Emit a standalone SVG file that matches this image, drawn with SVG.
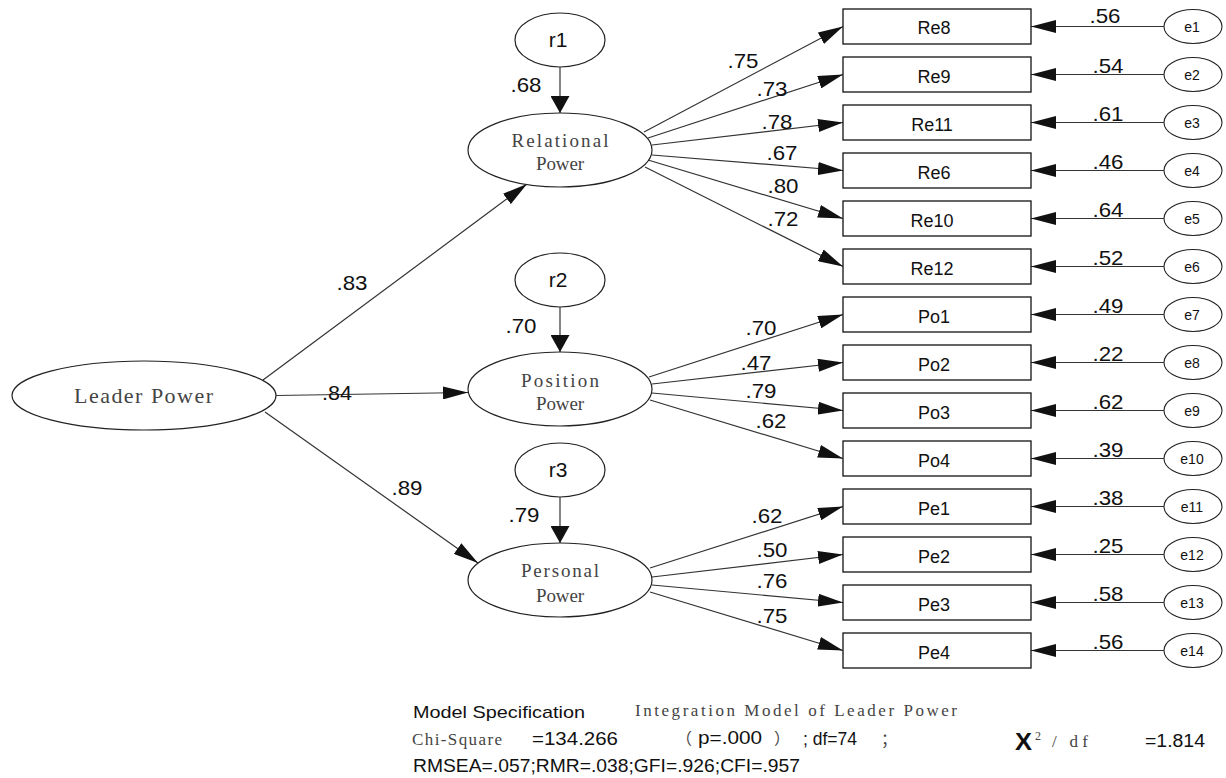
<svg xmlns="http://www.w3.org/2000/svg" width="1226" height="778" viewBox="0 0 1226 778">
<style>
.bg{fill:#ffffff}
.lat{fill:#ffffff;stroke:#222;stroke-width:1.2}
.box{fill:#ffffff;stroke:#111;stroke-width:1.3}
.err{fill:#ffffff;stroke:#222;stroke-width:1.1}
.ln{stroke:#333;stroke-width:1.2;fill:none}
.ser{font-family:"Liberation Serif","Noto Serif",serif;fill:#444}
.sans{font-family:"Liberation Sans",Arial,sans-serif;fill:#111}
.num{font-family:"Liberation Sans",Arial,sans-serif;fill:#111;font-size:21px;text-anchor:middle}
.obs{font-family:"Liberation Sans",Arial,sans-serif;fill:#111;font-size:18px;text-anchor:middle}
.el{font-family:"Liberation Sans",Arial,sans-serif;fill:#111;font-size:14px;text-anchor:middle}
.rl{font-family:"Liberation Sans",Arial,sans-serif;fill:#111;font-size:21px;text-anchor:middle}
.cjk{font-family:"Noto Sans CJK SC",sans-serif;fill:#444;font-size:16px}
</style>
<defs>
<marker id="ah" markerUnits="userSpaceOnUse" markerWidth="25" markerHeight="13" refX="25" refY="6.5" orient="auto" viewBox="0 0 25 13">
<path d="M0,0 L25,6.5 L0,13 z" fill="#111"/>
</marker>
<marker id="ahr" markerUnits="userSpaceOnUse" markerWidth="17" markerHeight="19" refX="17" refY="9.5" orient="auto" viewBox="0 0 17 19">
<path d="M0,0 L17,9.5 L0,19 z" fill="#111"/>
</marker>
</defs>
<rect class="bg" x="0" y="0" width="1226" height="778"/>

<g id="connectors">
<line class="ln" x1="263" y1="380" x2="527" y2="184" marker-end="url(#ah)"/>
<line class="ln" x1="276" y1="395.5" x2="468" y2="392.5" marker-end="url(#ah)"/>
<line class="ln" x1="265" y1="412" x2="478" y2="563" marker-end="url(#ah)"/>
<line class="ln" x1="560" y1="67" x2="560" y2="113" marker-end="url(#ahr)"/>
<line class="ln" x1="560" y1="307" x2="560" y2="352" marker-end="url(#ahr)"/>
<line class="ln" x1="560" y1="497" x2="560" y2="543" marker-end="url(#ahr)"/>
<line class="ln" x1="644" y1="132" x2="843" y2="26.5" marker-end="url(#ah)"/>
<line class="ln" x1="648" y1="138" x2="843" y2="74.5" marker-end="url(#ah)"/>
<line class="ln" x1="652" y1="145" x2="843" y2="122.5" marker-end="url(#ah)"/>
<line class="ln" x1="652" y1="155" x2="843" y2="170.5" marker-end="url(#ah)"/>
<line class="ln" x1="648" y1="160" x2="843" y2="218.5" marker-end="url(#ah)"/>
<line class="ln" x1="645" y1="167" x2="843" y2="266.5" marker-end="url(#ah)"/>
<line class="ln" x1="649" y1="377" x2="843" y2="314.5" marker-end="url(#ah)"/>
<line class="ln" x1="652" y1="384" x2="843" y2="362.5" marker-end="url(#ah)"/>
<line class="ln" x1="652" y1="393" x2="843" y2="410.5" marker-end="url(#ah)"/>
<line class="ln" x1="650" y1="400" x2="843" y2="458.5" marker-end="url(#ah)"/>
<line class="ln" x1="650" y1="568" x2="843" y2="506.5" marker-end="url(#ah)"/>
<line class="ln" x1="652" y1="577" x2="843" y2="554.5" marker-end="url(#ah)"/>
<line class="ln" x1="652" y1="585" x2="843" y2="602.5" marker-end="url(#ah)"/>
<line class="ln" x1="650" y1="592" x2="843" y2="650.5" marker-end="url(#ah)"/>
<line class="ln" x1="1164" y1="26.5" x2="1031" y2="26.5" marker-end="url(#ah)"/>
<line class="ln" x1="1164" y1="74.5" x2="1031" y2="74.5" marker-end="url(#ah)"/>
<line class="ln" x1="1164" y1="122.5" x2="1031" y2="122.5" marker-end="url(#ah)"/>
<line class="ln" x1="1164" y1="170.5" x2="1031" y2="170.5" marker-end="url(#ah)"/>
<line class="ln" x1="1164" y1="218.5" x2="1031" y2="218.5" marker-end="url(#ah)"/>
<line class="ln" x1="1164" y1="266.5" x2="1031" y2="266.5" marker-end="url(#ah)"/>
<line class="ln" x1="1164" y1="314.5" x2="1031" y2="314.5" marker-end="url(#ah)"/>
<line class="ln" x1="1164" y1="362.5" x2="1031" y2="362.5" marker-end="url(#ah)"/>
<line class="ln" x1="1164" y1="410.5" x2="1031" y2="410.5" marker-end="url(#ah)"/>
<line class="ln" x1="1164" y1="458.5" x2="1031" y2="458.5" marker-end="url(#ah)"/>
<line class="ln" x1="1164" y1="506.5" x2="1031" y2="506.5" marker-end="url(#ah)"/>
<line class="ln" x1="1164" y1="554.5" x2="1031" y2="554.5" marker-end="url(#ah)"/>
<line class="ln" x1="1164" y1="602.5" x2="1031" y2="602.5" marker-end="url(#ah)"/>
<line class="ln" x1="1164" y1="650.5" x2="1031" y2="650.5" marker-end="url(#ah)"/>
</g>

<g id="edge-labels">
<text class="num" x="352" y="290" textLength="31" lengthAdjust="spacingAndGlyphs">.83</text>
<text class="num" x="337" y="400" textLength="30" lengthAdjust="spacingAndGlyphs">.84</text>
<text class="num" x="407" y="495" textLength="31" lengthAdjust="spacingAndGlyphs">.89</text>
<text class="num" x="526" y="92" textLength="31" lengthAdjust="spacingAndGlyphs">.68</text>
<text class="num" x="521" y="333" textLength="31" lengthAdjust="spacingAndGlyphs">.70</text>
<text class="num" x="524" y="522" textLength="31" lengthAdjust="spacingAndGlyphs">.79</text>
<text class="num" x="743" y="68" textLength="31" lengthAdjust="spacingAndGlyphs">.75</text>
<text class="num" x="772" y="96" textLength="31" lengthAdjust="spacingAndGlyphs">.73</text>
<text class="num" x="777" y="129" textLength="31" lengthAdjust="spacingAndGlyphs">.78</text>
<text class="num" x="782" y="160" textLength="31" lengthAdjust="spacingAndGlyphs">.67</text>
<text class="num" x="783" y="193" textLength="31" lengthAdjust="spacingAndGlyphs">.80</text>
<text class="num" x="783" y="226" textLength="31" lengthAdjust="spacingAndGlyphs">.72</text>
<text class="num" x="761" y="335" textLength="31" lengthAdjust="spacingAndGlyphs">.70</text>
<text class="num" x="756" y="370" textLength="31" lengthAdjust="spacingAndGlyphs">.47</text>
<text class="num" x="761" y="398" textLength="31" lengthAdjust="spacingAndGlyphs">.79</text>
<text class="num" x="771" y="428" textLength="31" lengthAdjust="spacingAndGlyphs">.62</text>
<text class="num" x="767" y="523" textLength="31" lengthAdjust="spacingAndGlyphs">.62</text>
<text class="num" x="772" y="557" textLength="31" lengthAdjust="spacingAndGlyphs">.50</text>
<text class="num" x="772" y="588" textLength="31" lengthAdjust="spacingAndGlyphs">.76</text>
<text class="num" x="772" y="623" textLength="31" lengthAdjust="spacingAndGlyphs">.75</text>
<text class="num" x="1105" y="23" textLength="31" lengthAdjust="spacingAndGlyphs">.56</text>
<text class="num" x="1108" y="72.5" textLength="31" lengthAdjust="spacingAndGlyphs">.54</text>
<text class="num" x="1108" y="120.5" textLength="31" lengthAdjust="spacingAndGlyphs">.61</text>
<text class="num" x="1108" y="168.5" textLength="31" lengthAdjust="spacingAndGlyphs">.46</text>
<text class="num" x="1108" y="216.5" textLength="31" lengthAdjust="spacingAndGlyphs">.64</text>
<text class="num" x="1108" y="264.5" textLength="31" lengthAdjust="spacingAndGlyphs">.52</text>
<text class="num" x="1108" y="312.5" textLength="31" lengthAdjust="spacingAndGlyphs">.49</text>
<text class="num" x="1108" y="360.5" textLength="31" lengthAdjust="spacingAndGlyphs">.22</text>
<text class="num" x="1108" y="408.5" textLength="31" lengthAdjust="spacingAndGlyphs">.62</text>
<text class="num" x="1108" y="456.5" textLength="31" lengthAdjust="spacingAndGlyphs">.39</text>
<text class="num" x="1108" y="504.5" textLength="31" lengthAdjust="spacingAndGlyphs">.38</text>
<text class="num" x="1108" y="552.5" textLength="31" lengthAdjust="spacingAndGlyphs">.25</text>
<text class="num" x="1108" y="600.5" textLength="31" lengthAdjust="spacingAndGlyphs">.58</text>
<text class="num" x="1108" y="648.5" textLength="31" lengthAdjust="spacingAndGlyphs">.56</text>
</g>

<g id="leader-power">
<ellipse class="lat" cx="144" cy="395.5" rx="132" ry="34.5"/>
<text class="ser" x="74" y="403" font-size="22" textLength="139" lengthAdjust="spacing">Leader Power</text>
</g>
<g id="relational-power">
<ellipse class="lat" cx="560" cy="150" rx="92" ry="37"/>
<text class="ser" x="560" y="147" font-size="19" text-anchor="middle" textLength="97" lengthAdjust="spacing">Relational</text>
<text class="ser" x="560" y="170" font-size="19" text-anchor="middle" textLength="48" lengthAdjust="spacing">Power</text>
</g>
<g id="position-power">
<ellipse class="lat" cx="560" cy="389" rx="92" ry="37"/>
<text class="ser" x="560" y="387" font-size="19" text-anchor="middle" textLength="78" lengthAdjust="spacing">Position</text>
<text class="ser" x="560" y="410" font-size="19" text-anchor="middle" textLength="48" lengthAdjust="spacing">Power</text>
</g>
<g id="personal-power">
<ellipse class="lat" cx="560" cy="580" rx="92" ry="37"/>
<text class="ser" x="560" y="577" font-size="19" text-anchor="middle" textLength="78" lengthAdjust="spacing">Personal</text>
<text class="ser" x="560" y="602" font-size="19" text-anchor="middle" textLength="48" lengthAdjust="spacing">Power</text>
</g>
<g id="r1"><ellipse class="lat" cx="560" cy="40" rx="45" ry="27"/><text class="rl" x="558" y="47">r1</text></g>
<g id="r2"><ellipse class="lat" cx="560" cy="280" rx="45" ry="27"/><text class="rl" x="558" y="287">r2</text></g>
<g id="r3"><ellipse class="lat" cx="560" cy="470" rx="45" ry="27"/><text class="rl" x="558" y="477">r3</text></g>

<g id="Re8"><rect class="box" x="843" y="9" width="188" height="35"/><text class="obs" x="934" y="34">Re8</text></g>
<g id="Re9"><rect class="box" x="843" y="57" width="188" height="35"/><text class="obs" x="934" y="83">Re9</text></g>
<g id="Re11"><rect class="box" x="843" y="105" width="188" height="35"/><text class="obs" x="932" y="131">Re11</text></g>
<g id="Re6"><rect class="box" x="843" y="153" width="188" height="35"/><text class="obs" x="934" y="179">Re6</text></g>
<g id="Re10"><rect class="box" x="843" y="201" width="188" height="35"/><text class="obs" x="932" y="227">Re10</text></g>
<g id="Re12"><rect class="box" x="843" y="249" width="188" height="35"/><text class="obs" x="932" y="275">Re12</text></g>
<g id="Po1"><rect class="box" x="843" y="297" width="188" height="35"/><text class="obs" x="934" y="323">Po1</text></g>
<g id="Po2"><rect class="box" x="843" y="345" width="188" height="35"/><text class="obs" x="934" y="371">Po2</text></g>
<g id="Po3"><rect class="box" x="843" y="393" width="188" height="35"/><text class="obs" x="934" y="419">Po3</text></g>
<g id="Po4"><rect class="box" x="843" y="441" width="188" height="35"/><text class="obs" x="934" y="467">Po4</text></g>
<g id="Pe1"><rect class="box" x="843" y="489" width="188" height="35"/><text class="obs" x="934" y="515">Pe1</text></g>
<g id="Pe2"><rect class="box" x="843" y="537" width="188" height="35"/><text class="obs" x="934" y="563">Pe2</text></g>
<g id="Pe3"><rect class="box" x="843" y="585" width="188" height="35"/><text class="obs" x="934" y="611">Pe3</text></g>
<g id="Pe4"><rect class="box" x="843" y="633" width="188" height="35"/><text class="obs" x="934" y="659">Pe4</text></g>

<g id="e1"><ellipse class="err" cx="1193" cy="26.5" rx="29" ry="17"/><text class="el" x="1192" y="31.5">e1</text></g>
<g id="e2"><ellipse class="err" cx="1193" cy="74.5" rx="29" ry="17"/><text class="el" x="1192" y="79.5">e2</text></g>
<g id="e3"><ellipse class="err" cx="1193" cy="122.5" rx="29" ry="17"/><text class="el" x="1192" y="127.5">e3</text></g>
<g id="e4"><ellipse class="err" cx="1193" cy="170.5" rx="29" ry="17"/><text class="el" x="1192" y="175.5">e4</text></g>
<g id="e5"><ellipse class="err" cx="1193" cy="218.5" rx="29" ry="17"/><text class="el" x="1192" y="223.5">e5</text></g>
<g id="e6"><ellipse class="err" cx="1193" cy="266.5" rx="29" ry="17"/><text class="el" x="1192" y="271.5">e6</text></g>
<g id="e7"><ellipse class="err" cx="1193" cy="314.5" rx="29" ry="17"/><text class="el" x="1192" y="319.5">e7</text></g>
<g id="e8"><ellipse class="err" cx="1193" cy="362.5" rx="29" ry="17"/><text class="el" x="1192" y="367.5">e8</text></g>
<g id="e9"><ellipse class="err" cx="1193" cy="410.5" rx="29" ry="17"/><text class="el" x="1192" y="415.5">e9</text></g>
<g id="e10"><ellipse class="err" cx="1193" cy="458.5" rx="29" ry="17"/><text class="el" x="1192" y="463.5">e10</text></g>
<g id="e11"><ellipse class="err" cx="1193" cy="506.5" rx="29" ry="17"/><text class="el" x="1192" y="511.5">e11</text></g>
<g id="e12"><ellipse class="err" cx="1193" cy="554.5" rx="29" ry="17"/><text class="el" x="1192" y="559.5">e12</text></g>
<g id="e13"><ellipse class="err" cx="1193" cy="602.5" rx="29" ry="17"/><text class="el" x="1192" y="607.5">e13</text></g>
<g id="e14"><ellipse class="err" cx="1193" cy="650.5" rx="29" ry="17"/><text class="el" x="1192" y="655.5">e14</text></g>

<g id="model-info">
<text class="sans" x="413" y="718" font-size="17" textLength="172" lengthAdjust="spacingAndGlyphs">Model Specification</text>
<text class="ser" x="635" y="716" font-size="17" textLength="322" lengthAdjust="spacing">Integration Model of Leader Power</text>
<text class="ser" x="412" y="745" font-size="17" textLength="90" lengthAdjust="spacing">Chi-Square</text>
<text class="sans" x="532" y="745" font-size="18" textLength="86" lengthAdjust="spacingAndGlyphs">=134.266</text>
<text class="cjk" x="676" y="744">（</text>
<text class="sans" x="698" y="744" font-size="18" textLength="64" lengthAdjust="spacingAndGlyphs">p=.000</text>
<text class="cjk" x="774" y="744">）</text>
<text class="sans" x="803" y="745" font-size="18" textLength="54" lengthAdjust="spacingAndGlyphs">; df=74</text>
<text class="cjk" x="881" y="745">；</text>
<text class="sans" x="1015" y="750" font-size="23" font-weight="bold" textLength="17" lengthAdjust="spacingAndGlyphs">X</text>
<text class="ser" x="1035" y="740" font-size="12">2</text>
<text class="ser" x="1052" y="747" font-size="17" textLength="36" lengthAdjust="spacing">/ df</text>
<text class="sans" x="1145" y="747" font-size="18" textLength="60" lengthAdjust="spacingAndGlyphs">=1.814</text>
<text class="sans" x="413" y="772" font-size="19" textLength="387" lengthAdjust="spacingAndGlyphs">RMSEA=.057;RMR=.038;GFI=.926;CFI=.957</text>
</g>
</svg>
